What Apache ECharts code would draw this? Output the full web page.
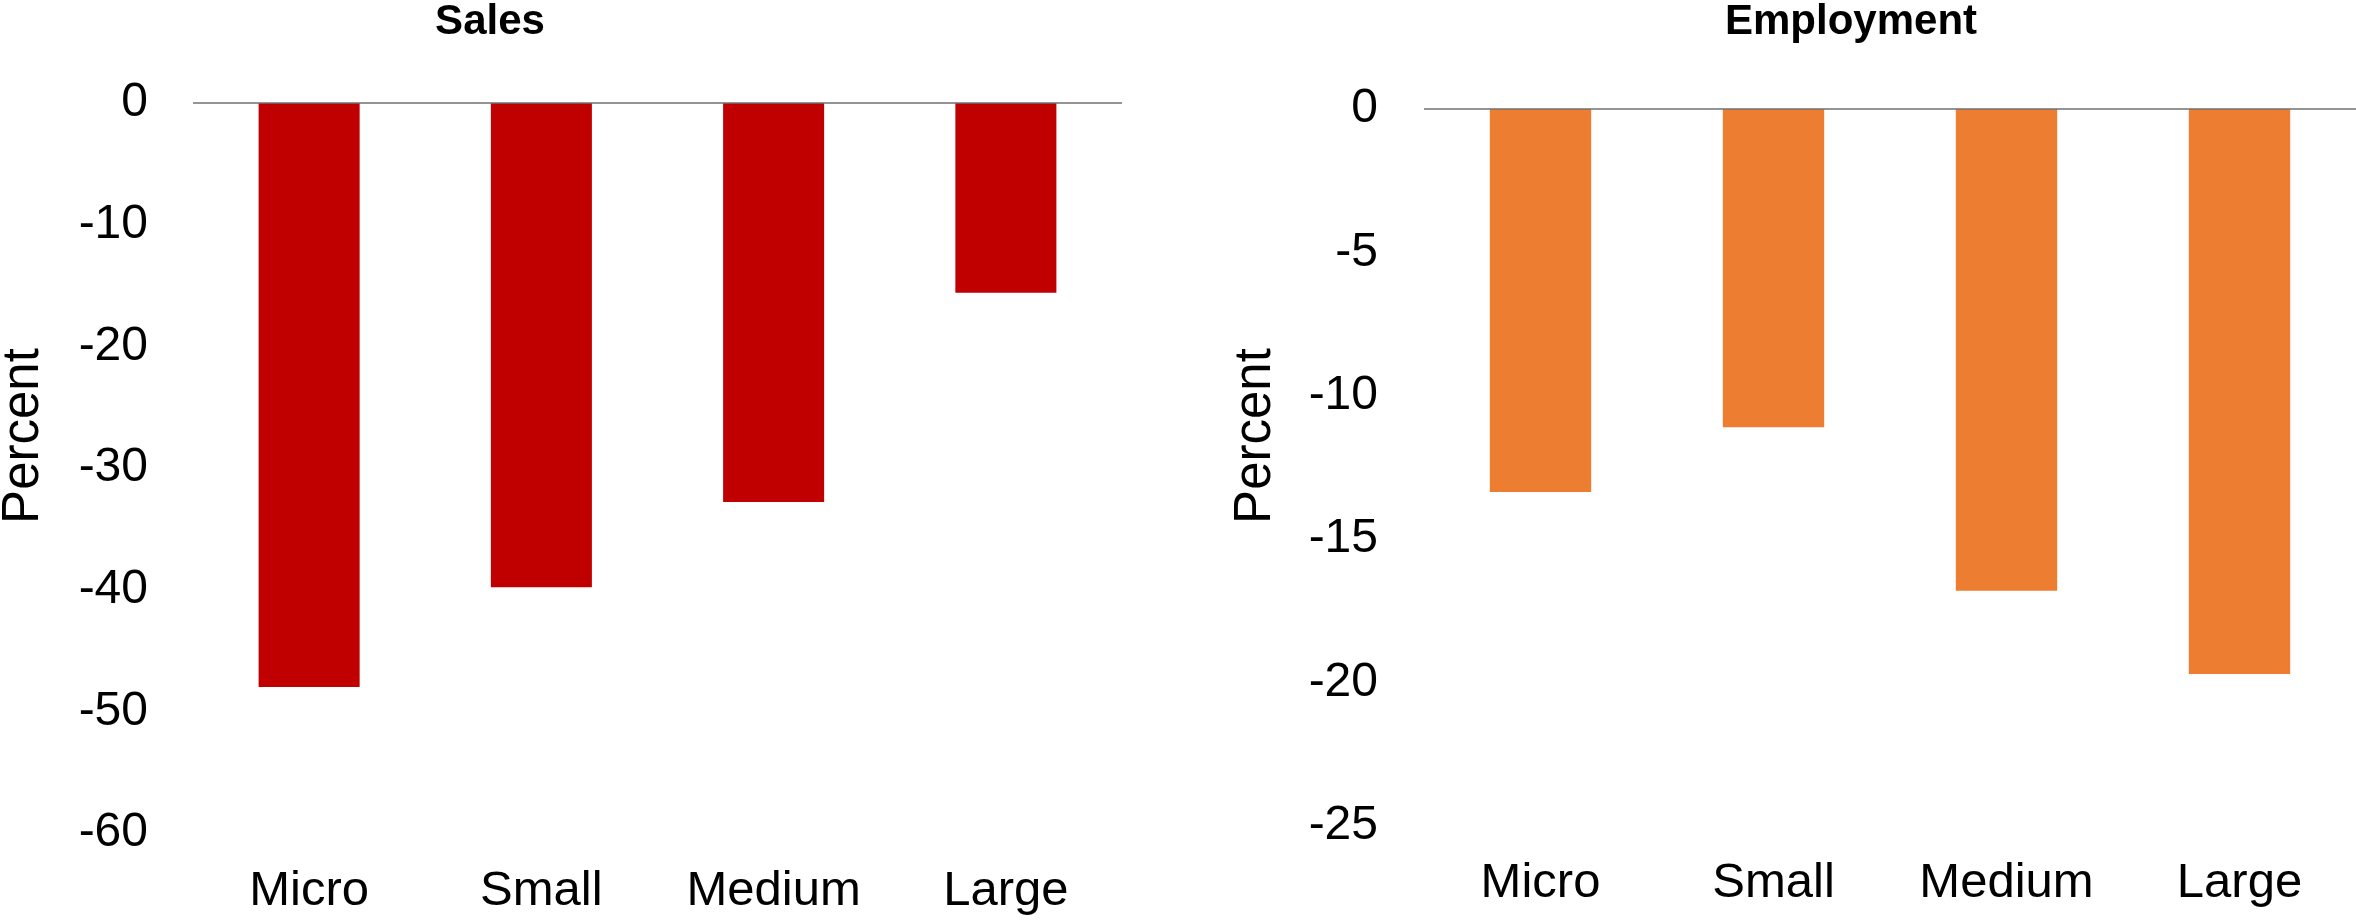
<!DOCTYPE html>
<html>
<head>
<meta charset="utf-8">
<title>Sales and Employment by firm size</title>
<script src="https://cdn.jsdelivr.net/npm/echarts@6/dist/echarts.min.js"></script>
<style>
  html, body { margin: 0; padding: 0; background: #ffffff; }
  #chart { width: 2356px; height: 921px; }
</style>
</head>
<body>
<div id="chart"></div>
<script>
// Firm-size categories shared by both panels
const categories = ['Micro', 'Small', 'Medium', 'Large'];

// Percent change in sales by firm size
const salesValues = [-48.0, -39.8, -32.8, -15.6];

// Percent change in employment by firm size
const employmentValues = [-13.35, -11.1, -16.8, -19.7];

// Value-axis ranges and tick steps
const salesAxis = { min: -60, max: 0, interval: 10 };
const employmentAxis = { min: -25, max: 0, interval: 5 };

const panelTitles = ['Sales', 'Employment'];
const axisName = 'Percent';

const FONT = '"Liberation Sans", Arial, Helvetica, sans-serif';
const RED = '#C00000';
const ORANGE = '#ED7D31';
const ZERO_LINE = '#707070';

const chart = echarts.init(document.getElementById('chart'), null, { renderer: 'canvas' });

function valueAxis(gridIndex, range, margin) {
  return {
    type: 'value',
    gridIndex: gridIndex,
    min: range.min,
    max: range.max,
    interval: range.interval,
    axisLine: { show: false },
    axisTick: { show: false },
    splitLine: { show: false },
    axisLabel: {
      color: '#000000',
      fontFamily: FONT,
      fontSize: 48,
      margin: margin
    }
  };
}

function categoryAxis(gridIndex, margin) {
  return {
    type: 'category',
    gridIndex: gridIndex,
    data: categories,
    position: 'bottom',
    axisLine: { show: false, onZero: false },
    axisTick: { show: false },
    splitLine: { show: false },
    axisLabel: {
      color: '#000000',
      fontFamily: FONT,
      fontSize: 49,
      margin: margin,
      interval: 0
    }
  };
}

function barSeries(index, values, color) {
  return {
    type: 'bar',
    xAxisIndex: index,
    yAxisIndex: index,
    data: values,
    barWidth: '43.5%',
    itemStyle: { color: color },
    silent: true,
    animation: false,
    markLine: {
      silent: true,
      symbol: 'none',
      label: { show: false },
      lineStyle: { color: ZERO_LINE, width: 1.5, type: 'solid' },
      data: [{ yAxis: 0 }],
      animation: false
    }
  };
}

function textItem(text, x, y, size, weight, rotation) {
  return {
    type: 'text',
    x: x,
    y: y,
    rotation: rotation || 0,
    silent: true,
    style: {
      text: text,
      fill: '#000000',
      fontFamily: FONT,
      fontSize: size,
      fontWeight: weight,
      align: 'center',
      verticalAlign: 'middle',
      textAlign: 'center',
      textVerticalAlign: 'middle'
    }
  };
}

const option = {
  backgroundColor: '#ffffff',
  animation: false,
  grid: [
    { left: 193, top: 103, width: 929, height: 730, containLabel: false },
    { left: 1424, top: 109, width: 932, height: 717, containLabel: false }
  ],
  xAxis: [categoryAxis(0, 34), categoryAxis(1, 33)],
  yAxis: [valueAxis(0, salesAxis, 45), valueAxis(1, employmentAxis, 46)],
  series: [
    barSeries(0, salesValues, RED),
    barSeries(1, employmentValues, ORANGE)
  ],
  graphic: [
    textItem(panelTitles[0], 490, 22, 42, 'bold'),
    textItem(panelTitles[1], 1851, 22, 42, 'bold'),
    textItem(axisName, 24, 436, 51, 'normal', Math.PI / 2),
    textItem(axisName, 1256, 436, 51, 'normal', Math.PI / 2)
  ]
};

chart.setOption(option);
</script>
</body>
</html>
